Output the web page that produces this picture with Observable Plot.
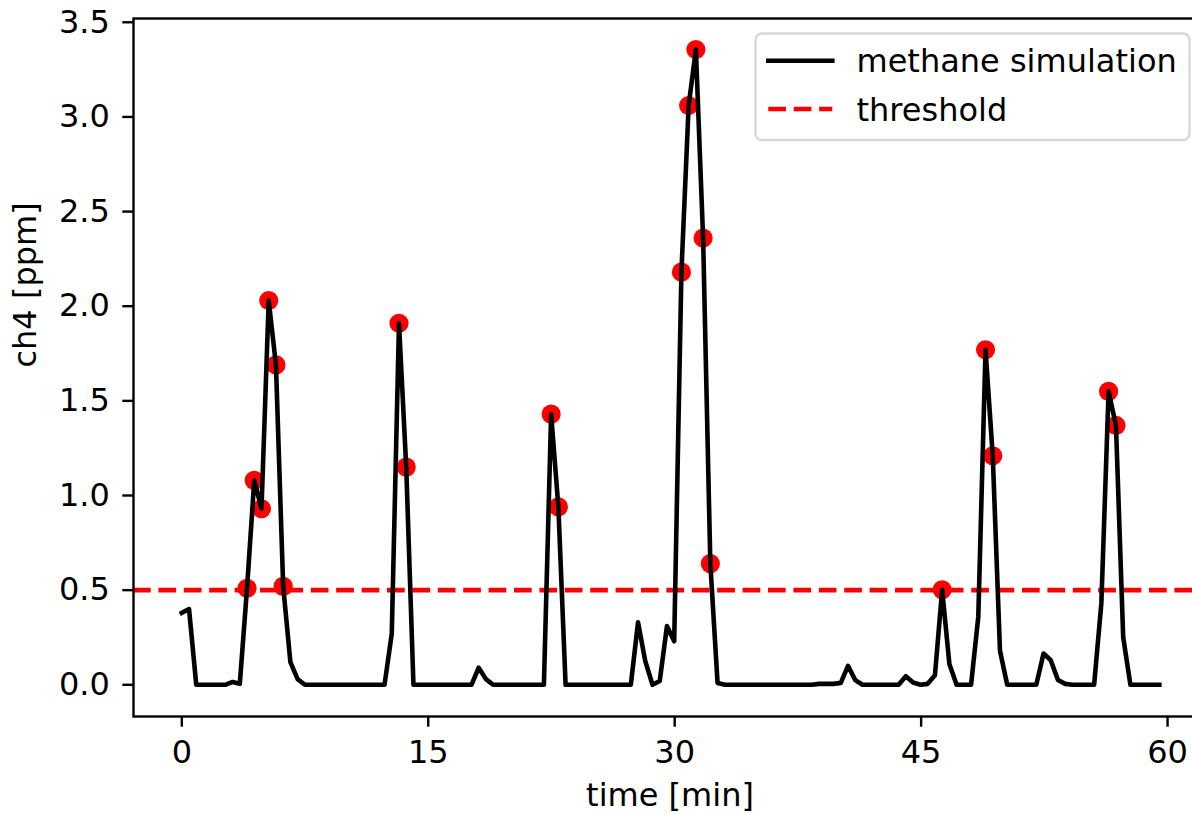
<!DOCTYPE html>
<html>
<head>
<meta charset="utf-8">
<script src="https://cdn.jsdelivr.net/npm/d3@7"></script>
<script src="https://cdn.jsdelivr.net/npm/@observablehq/plot@0.6"></script>
<style>
  html, body { margin: 0; padding: 0; background: #fff; overflow: hidden; width: 1192px; height: 814px; }
  #chart { position: relative; width: 1192px; height: 814px; overflow: hidden; }
  #chart > svg.legend { position: absolute; left: 0; top: 0; pointer-events: none; }
</style>
</head>
<body>
<div id="chart"></div>
<script>
// Simulated methane concentration, sampled every ~0.44 min
const time = [
  0.00, 0.44, 0.88, 1.32, 1.76, 2.20, 2.64, 3.09, 3.53, 3.97,
  4.41, 4.85, 5.29, 5.73, 6.17, 6.61, 7.05, 7.49, 7.93, 8.37,
  8.81, 9.26, 9.70, 10.14, 10.58, 11.02, 11.46, 11.90, 12.34, 12.78,
  13.22, 13.66, 14.10, 14.54, 14.99, 15.43, 15.87, 16.31, 16.75, 17.19,
  17.63, 18.07, 18.51, 18.95, 19.39, 19.83, 20.27, 20.71, 21.16, 21.60,
  22.04, 22.48, 22.92, 23.36, 23.80, 24.24, 24.68, 25.12, 25.56, 26.00,
  26.44, 26.89, 27.33, 27.77, 28.21, 28.65, 29.09, 29.53, 29.97, 30.41,
  30.85, 31.29, 31.73, 32.17, 32.61, 33.06, 33.50, 33.94, 34.38, 34.82,
  35.26, 35.70, 36.14, 36.58, 37.02, 37.46, 37.90, 38.34, 38.79, 39.23,
  39.67, 40.11, 40.55, 40.99, 41.43, 41.87, 42.31, 42.75, 43.19, 43.63,
  44.07, 44.51, 44.96, 45.40, 45.84, 46.28, 46.72, 47.16, 47.60, 48.04,
  48.48, 48.92, 49.36, 49.80, 50.24, 50.69, 51.13, 51.57, 52.01, 52.45,
  52.89, 53.33, 53.77, 54.21, 54.65, 55.09, 55.53, 55.97, 56.41, 56.86,
  57.30, 57.74, 58.18, 58.62, 59.06, 59.50
];
const methane = [
  0.38, 0.40, 0, 0, 0, 0, 0, 0.015, 0.005, 0.51,
  1.08, 0.93, 2.03, 1.69, 0.52, 0.12, 0.03, 0, 0, 0,
  0, 0, 0, 0, 0, 0, 0, 0, 0, 0.27,
  1.91, 1.15, 0, 0, 0, 0, 0, 0, 0, 0,
  0, 0.09, 0.03, 0, 0, 0, 0, 0, 0, 0,
  0, 1.43, 0.94, 0, 0, 0, 0, 0, 0, 0,
  0, 0, 0, 0.33, 0.125, 0, 0.02, 0.31, 0.23, 2.18,
  3.06, 3.356, 2.36, 0.64, 0.01, 0, 0, 0, 0, 0,
  0, 0, 0, 0, 0, 0, 0, 0, 0.005, 0.005,
  0.005, 0.01, 0.10, 0.025, 0, 0, 0, 0, 0, 0,
  0.045, 0.012, 0, 0.005, 0.05, 0.502, 0.11, 0, 0, 0,
  0.36, 1.77, 1.21, 0.18, 0, 0, 0, 0, 0, 0.165,
  0.13, 0.025, 0.005, 0, 0, 0, 0, 0.43, 1.55, 1.37,
  0.25, 0, 0, 0, 0, 0
];
const threshold = 0.5;
const xTicks = [0, 15, 30, 45, 60];
const yTicks = [0, 0.5, 1.0, 1.5, 2.0, 2.5, 3.0, 3.5];
const seriesNames = ["methane simulation", "threshold"];
const xLabel = "time [min]";
const yLabel = "ch4 [ppm]";

const data = time.map((t, i) => ({time: t, ch4: methane[i]}));
const exceed = data.filter(d => d.ch4 >= threshold);

const FONT = "'DejaVu Sans', 'Liberation Sans', sans-serif";
const FS = 32;
const LW = 4.6;

const plot = Plot.plot({
  width: 1208,
  height: 814,
  marginLeft: 133,
  marginRight: 2,
  marginTop: 18,
  marginBottom: 98,
  style: {fontFamily: FONT, fontSize: FS + "px", color: "black", background: "white", maxWidth: "none", overflow: "hidden"},
  x: {domain: [-2.94, 62.37]},
  y: {domain: [-0.1675, 3.52]},
  marks: [
    Plot.dot(exceed, {x: "time", y: "ch4", r: 9.6, fill: "red"}),
    Plot.ruleY([threshold], {stroke: "red", strokeWidth: LW, strokeDasharray: "17.7,7.7"}),
    Plot.line(data, {x: "time", y: "ch4", stroke: "black", strokeWidth: LW, strokeLinejoin: "round", strokeLinecap: "square"}),
    Plot.frame({stroke: "black", strokeWidth: 2.4}),
    Plot.axisX({ticks: xTicks, tickSize: 10.7, tickPadding: 13, strokeWidth: 2.4, label: null, fontSize: FS}),
    Plot.axisY({ticks: yTicks, tickSize: 10.7, tickPadding: 13, strokeWidth: 2.4, label: null, fontSize: FS, tickFormat: d3.format(".1f")}),
    Plot.text([xLabel], {text: d => d, frameAnchor: "bottom", dy: 79, lineAnchor: "middle", fontSize: FS}),
    Plot.text([yLabel], {text: d => d, frameAnchor: "left", dx: -108, rotate: -90, lineAnchor: "middle", fontSize: FS})
  ]
});

const chart = document.getElementById("chart");
chart.appendChild(plot);

// Legend box in the upper right corner of the axes
const ns = "http://www.w3.org/2000/svg";
const leg = document.createElementNS(ns, "svg");
leg.setAttribute("class", "legend");
leg.setAttribute("width", 1192);
leg.setAttribute("height", 814);
leg.innerHTML = `
  <rect x="755.5" y="33.5" width="434" height="106.5" rx="6.4" ry="6.4" fill="white" fill-opacity="0.8" stroke="#cccccc" stroke-opacity="0.8" stroke-width="2.3"></rect>
  <line x1="768.3" x2="832.3" y1="60.7" y2="60.7" stroke="black" stroke-width="${LW}" stroke-linecap="square"></line>
  <line x1="768.3" x2="832.3" y1="109" y2="109" stroke="red" stroke-width="${LW}" stroke-dasharray="17.7,7.7"></line>
  <text x="856.5" y="72" font-family="${FONT}" font-size="${FS}" fill="black">${seriesNames[0]}</text>
  <text x="856.5" y="120.5" font-family="${FONT}" font-size="${FS}" fill="black">${seriesNames[1]}</text>
`;
chart.appendChild(leg);
</script>
</body>
</html>
